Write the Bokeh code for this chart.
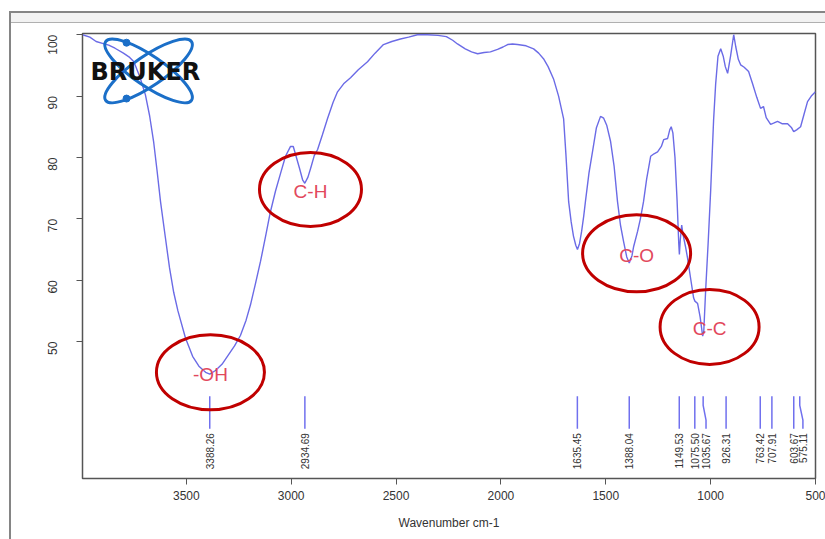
import math
from bokeh.plotting import figure
from bokeh.models import Range1d, FixedTicker
from bokeh.core.properties import value
from bokeh.embed import file_html
from bokeh.resources import INLINE

# ---------------- data ----------------
wavenumber = [3995, 3960, 3930, 3900, 3870, 3840, 3800, 3770, 3750, 3720, 3695, 3675,
              3656, 3640, 3623, 3600, 3580, 3560, 3540, 3504, 3470, 3440, 3408, 3388,
              3361, 3330, 3300, 3270, 3242, 3215, 3194, 3170, 3146, 3120, 3100, 3075,
              3050, 3027, 3003, 2990, 2975, 2960, 2945, 2935, 2920, 2905, 2890, 2874,
              2851, 2827, 2800, 2779, 2750, 2717, 2680, 2636, 2600, 2560, 2520, 2479,
              2440, 2398, 2350, 2300, 2260, 2230, 2207, 2170, 2140, 2111, 2080, 2050,
              2016, 1990, 1968, 1945, 1921, 1880, 1844, 1820, 1797, 1775, 1749, 1725,
              1701, 1690, 1677, 1665, 1654, 1643, 1635, 1625, 1615, 1605, 1597, 1580,
              1563, 1545, 1525, 1510, 1495, 1477, 1460, 1444, 1430, 1415, 1400, 1388,
              1375, 1367, 1348, 1335, 1320, 1305, 1286, 1270, 1253, 1235, 1224, 1205,
              1195, 1188, 1180, 1170, 1160, 1152, 1149, 1145, 1138, 1132, 1120, 1110,
              1095, 1081, 1075, 1062, 1050, 1038, 1033, 1024, 1012, 1000, 986, 976,
              965, 952, 940, 930, 919, 905, 890, 880, 868, 857, 840, 819, 800, 780,
              762, 748, 735, 714, 700, 681, 660, 633, 615, 604, 590, 571, 555, 538,
              520, 500]
transmittance = [100.0, 99.6, 98.9, 98.6, 98.3, 97.8, 97.0, 96.3, 95.6, 93.0, 90.2, 86.8,
                 82.6, 78.0, 72.8, 67.0, 62.0, 58.0, 55.0, 50.6, 47.6, 46.0, 45.0, 44.7,
                 45.3, 46.3, 47.8, 49.3, 51.0, 53.5, 56.0, 59.5, 63.1, 67.5, 71.0, 74.5,
                 77.5, 80.2, 81.8, 81.8, 80.0, 78.2, 76.3, 75.8, 76.8, 78.5, 80.3, 81.3,
                 83.7, 86.3, 89.0, 90.7, 92.0, 93.0, 94.3, 95.6, 97.0, 98.4, 98.9, 99.3,
                 99.6, 100.0, 100.0, 99.9, 99.7, 99.1, 98.5, 97.7, 97.2, 96.9, 97.1, 97.2,
                 97.6, 98.0, 98.4, 98.5, 98.4, 98.2, 97.7, 97.0, 96.1, 94.8, 92.8, 90.0,
                 86.3, 80.5, 72.8, 69.5, 67.2, 65.7, 65.0, 66.0, 68.0, 70.5, 72.8, 77.5,
                 81.0, 84.8, 86.7, 86.4, 85.2, 82.6, 78.5, 72.8, 69.0, 66.3, 63.8, 62.8,
                 64.0, 65.5, 68.0, 70.0, 72.8, 76.5, 80.2, 80.6, 80.9, 81.8, 82.9, 83.1,
                 84.5, 85.0, 84.0, 80.0, 73.0, 66.0, 64.2, 66.5, 69.0, 67.5, 65.5, 63.6,
                 60.2, 57.1, 56.6, 56.2, 54.0, 50.9, 51.5, 58.2, 66.0, 74.5, 86.0, 92.0,
                 96.5, 97.7, 96.5, 94.8, 93.7, 96.5, 100.0, 98.0, 96.0, 95.1, 94.7, 94.0,
                 92.0, 89.8, 88.0, 88.3, 86.5, 85.4, 85.6, 85.9, 85.5, 85.5, 84.9, 84.2,
                 84.5, 85.0, 87.0, 89.1, 90.0, 90.7]

peak_positions = [3388.26, 2934.69, 1635.45, 1388.04, 1149.53, 1075.50, 1035.67,
                  926.31, 763.42, 707.91, 603.67, 575.11]
peak_labels = ["3388.26", "2934.69", "1635.45", "1388.04", "1149.53", "1075.50",
               "1035.67", "926.31", "763.42", "707.91", "603.67", "575.11"]
peak_label_positions = [3388.26, 2934.69, 1635.45, 1388.04, 1149.53, 1075.50,
                        1022.0, 926.31, 763.42, 707.91, 603.67, 560.0]

band_names = ["-OH", "C-H", "C-O", "C-C"]
band_x = [3385, 2908, 1353, 1005]
band_y = [45.0, 74.8, 64.4, 52.4]

x_ticks = [3500, 3000, 2500, 2000, 1500, 1000, 500]
y_ticks = [50, 60, 70, 80, 90, 100]
x_title = "Wavenumber cm-1"
logo_text = "BRUKER"

# ---------------- figure ----------------
FONT = "Liberation Sans"
p = figure(frame_width=733, frame_height=445,
           min_border_left=82, min_border_right=10, min_border_top=33, min_border_bottom=61,
           x_range=Range1d(3995, 500), y_range=Range1d(27.7, 100.2),
           output_backend="svg", toolbar_location=None,
           background_fill_color="white", border_fill_color="white", border_fill_alpha=0)
p.grid.visible = False
p.outline_line_color = "#555555"
p.outline_line_width = 1.5

# screenshot window frame, painted behind the transparent canvas border
p.styles = {
    "background": (
        "linear-gradient(#858585,#858585) 9px 11px / 2px 100% no-repeat, "
        "linear-gradient(#858585,#858585) 9px 11px / 100% 2px no-repeat, "
        "linear-gradient(#b0b0b0,#b0b0b0) 11px 22px / 100% 1px no-repeat, "
        "linear-gradient(#f2f2f2,#f2f2f2) 11px 13px / 100% 9px no-repeat, "
        "white"
    )
}

# axes
xa = p.xaxis[0]
xa.ticker = FixedTicker(ticks=x_ticks)
xa.axis_label = x_title
xa.axis_label_text_font = FONT
xa.axis_label_text_font_size = "12px"
xa.axis_label_text_font_style = "normal"
xa.axis_label_text_color = "#333333"
xa.axis_label_standoff = 13
xa.major_label_text_font = FONT
xa.major_label_text_font_size = "12px"
xa.major_label_text_color = "#333333"
xa.major_label_standoff = 6
xa.major_tick_out = 6
xa.major_tick_in = 0
xa.minor_tick_out = 0
xa.minor_tick_in = 0
xa.axis_line_color = "#555555"
xa.major_tick_line_color = "#555555"

ya = p.yaxis[0]
ya.ticker = FixedTicker(ticks=y_ticks)
ya.major_label_orientation = math.pi / 2
ya.major_label_text_font = FONT
ya.major_label_text_font_size = "12px"
ya.major_label_text_color = "#333333"
ya.major_label_standoff = 24
ya.major_tick_out = 6
ya.major_tick_in = 0
ya.minor_tick_out = 0
ya.minor_tick_in = 0
ya.axis_line_color = "#555555"
ya.major_tick_line_color = "#555555"

# spectrum
p.line(wavenumber, transmittance, line_color="#6b6be6", line_width=1.4)

# peak marker lines and labels
xs, ys = [], []
for pk, lx in zip(peak_positions, peak_label_positions):
    xs.append([pk, pk, lx, lx])
    ys.append([41.1, 39.6, 37.2, 35.8])
p.multi_line(xs, ys, line_color="#7070ee", line_width=1.5)
p.text(x=peak_label_positions, y=[35.1] * len(peak_labels), text=peak_labels,
       angle=math.pi / 2, text_align="right", text_baseline="middle",
       text_font=value(FONT), text_font_size="10px", text_color="#333333")

# band annotations (red ellipses)
p.ellipse(x=band_x, y=band_y, width=[108, 102, 108, 99], height=[75, 74, 77, 75],
          width_units="screen", height_units="screen",
          fill_color=None, line_color="#c00000", line_width=3)
p.text(x=band_x, y=[v - 0.3 for v in band_y], text=band_names,
       text_align="center", text_baseline="middle",
       text_font=value(FONT), text_font_size="19px", text_color="#e2485c")

# Bruker logo
p.ellipse(x=[3680, 3680], y=[94.1, 94.1], width=[104, 104], height=[30, 30],
          angle=[0.6, -0.6], width_units="screen", height_units="screen",
          fill_color=None, line_color="#1b6fc8", line_width=3)
p.scatter(x=[3785, 3785], y=[98.7, 89.6], size=7, color="#1b6fc8")
p.text(x=[3695], y=[94.0], text=[logo_text], text_align="center",
       text_baseline="middle", text_font=value("DejaVu Sans"),
       text_font_size="24px", text_font_style="bold", text_color="#111111")

open("out.html", "w").write(file_html(p, INLINE))
